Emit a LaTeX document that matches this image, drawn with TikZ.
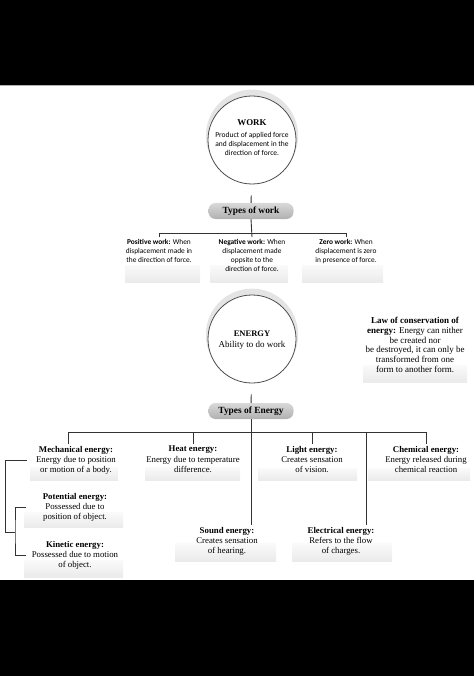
\documentclass[tikz,border=0pt]{standalone}
\usepackage{fontspec}
\setmainfont{Liberation Serif}
\newfontfamily\worksans{Carlito}
\usetikzlibrary{shadows}

\begin{document}
\begin{tikzpicture}[
    x=1pt, y=-1pt,
    bigcircle/.style={circle, draw=black!70, line width=0.8pt, fill=white, minimum size=88pt, inner sep=0pt,
        drop shadow={shadow xshift=0pt, shadow yshift=4pt, shadow scale=1.05, fill=gray!30, opacity=.7}},
    typebox/.style={rectangle, rounded corners=7pt, top color=gray!30, bottom color=gray!62, minimum width=85pt, minimum height=16pt, inner sep=0pt, font=\fontsize{9.4}{11}\selectfont\bfseries},
    worktype/.style={align=center, anchor=north, inner sep=2pt, font=\worksans\fontsize{7.4}{9}\selectfont},
    energytype/.style={align=center, anchor=north, inner sep=2pt, font=\fontsize{8.8}{10.3}\selectfont},
    link/.style={draw=black!80, line width=0.9pt},
    band/.style={top color=gray!4, bottom color=gray!16, draw=none}
]
\useasboundingbox (0,0) rectangle (474,676);

% Black bars of the scan
\fill[black] (0,0) rectangle (474,85);
\fill[black] (0,580) rectangle (474,676);
\draw[gray!60, line width=0.6pt] (0,85.5) -- (474,85.5);

% Scan shading under the texts
\fill[band] (125,265) rectangle (200,282);
\fill[band] (210,265) rectangle (288,282);
\fill[band] (302,265) rectangle (383,282);
\fill[band] (363,365) rectangle (467,382);
\fill[band] (30,467) rectangle (118,480);
\fill[band] (145,467) rectangle (240,480);
\fill[band] (258,468) rectangle (357,480);
\fill[band] (368,468) rectangle (470,480);
\fill[band] (24,512) rectangle (123,527);
\fill[band] (24,560) rectangle (123,577);
\fill[band] (175,543) rectangle (276,561);
\fill[band] (292,543) rectangle (392,561);

% Work
\node[bigcircle] (work) at (252,140) {};
\node[align=center, font=\worksans\fontsize{7.5}{9}\selectfont] (worktext) at (252,138)
    {{\rmfamily\bfseries\fontsize{8.9}{11}\selectfont WORK}\\[3pt]Product of applied force\\and displacement in the\\direction of force.};
\node[typebox] (typeswork) at (251,211) {Types of work};
\coordinate (wbar) at (252,233);

\node[worktype] (poswork) at (159,237) {\textbf{Positive work:} When\\displacement made in\\the direction of force.};
\node[worktype] (negwork) at (252,237) {\textbf{Negative work:} When\\displacement made\\oppsite to the\\direction of force.};
\node[worktype] (zerowork) at (346,237) {\textbf{Zero work:} When\\displacement is zero\\in presence of force.};

\draw[link, shorten <=11pt] (work) -- (typeswork);
\draw[link] (typeswork.south) -- (negwork.north);
\draw[link] (poswork.north) -- (poswork.north |- wbar) -- (zerowork.north |- wbar) -- (zerowork.north);

% Energy
\node[bigcircle] (energy) at (252,339) {};
\node[align=center, font=\fontsize{9}{10.5}\selectfont] (energytext) at (252,340)
    {\textbf{\fontsize{8.5}{10.5}\selectfont ENERGY}\\Ability to do work};
\node[align=center, anchor=north, inner sep=2pt, font=\fontsize{9}{9.8}\selectfont] (law) at (415,315)
    {\textbf{Law of conservation of}\\\textbf{energy:} Energy can nither\\be created nor\\be destroyed, it can only be\\transformed from one\\form to another form.};
\node[typebox] (typesenergy) at (251,411) {Types of Energy};
\coordinate (ebar) at (251,432);

\node[energytype] (mech) at (76,444) {\textbf{Mechanical energy:}\\Energy due to position\\or motion of a body.};
\node[energytype] (heat) at (193,444) {\textbf{Heat energy:}\\Energy due to temperature\\difference.};
\node[energytype] (light) at (312,444) {\textbf{Light energy:}\\Creates sensation\\of vision.};
\node[energytype] (chem) at (426,444) {\textbf{Chemical energy:}\\Energy released during\\chemical reaction};
\node[energytype] (pot) at (75,491) {\textbf{Potential energy:}\\Possessed due to\\position of object.};
\node[energytype] (kin) at (75,539) {\textbf{Kinetic energy:}\\Possessed due to motion\\of object.};
\node[energytype] (sound) at (227,525) {\textbf{Sound energy:}\\Creates sensation\\of hearing.};
\node[energytype] (elec) at (341,525) {\textbf{Electrical energy:}\\Refers to the flow\\of charges.};

\coordinate (mechtop) at ([xshift=-8pt]mech.north);
\coordinate (electop) at ([xshift=25pt]elec.north);
\coordinate (pkjoin) at (15,532);

\draw[link, shorten <=11pt] (energy) -- (typesenergy);
\draw[link] (typesenergy.south) -- (typesenergy.south |- sound.north);
\draw[link] (mechtop) -- (mechtop |- ebar) -- (chem.north |- ebar) -- (chem.north);
\draw[link] (heat.north) -- (heat.north |- ebar);
\draw[link] (light.north) -- (light.north |- ebar);
\draw[link] (electop) -- (electop |- ebar);

% Mechanical branches
\draw[link] ([xshift=-7pt]mech.west) -- ++(-21,0) |- (pkjoin);
\draw[link] ([xshift=-15pt]pot.west) -| (pkjoin) |- ([xshift=-4pt]kin.west);

\end{tikzpicture}
\end{document}
